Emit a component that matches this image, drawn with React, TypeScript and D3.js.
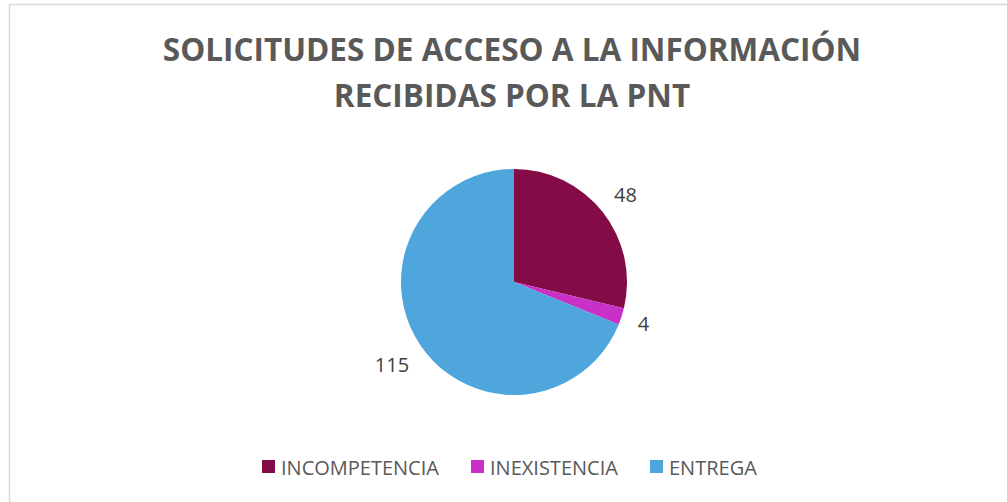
import React from "react";
import * as d3 from "d3";

const categories = ["INCOMPETENCIA", "INEXISTENCIA", "ENTREGA"];
const values = [48, 4, 115];
const colors = ["#830C47", "#C930C8", "#4EA6DC"];
const titleLines = ["SOLICITUDES DE ACCESO A LA INFORMACIÓN", "RECIBIDAS POR LA PNT"];

const W = 1007;
const H = 502;
const cx = 514;
const cy = 282;
const radius = 113;

const App = () => {
  const data = categories.map((c, i) => ({ name: c, value: values[i], color: colors[i] }));
  const pie = d3.pie<any>().sort(null).value((d) => d.value);
  const arcs = pie(data);
  const arc = d3.arc<any>().innerRadius(0).outerRadius(radius);

  // label box sits just outside the slice, like Excel's outside-end labels
  const labelPos = (a: any) => {
    const mid = (a.startAngle + a.endAngle) / 2;
    const sx = Math.sin(mid);
    const sy = -Math.cos(mid);
    const halfW = (String(a.data.value).length * 12) / 2;
    const halfH = 7.5;
    const r = radius + 15 + halfW * Math.abs(sx) + halfH * Math.abs(sy);
    return { x: sx * r, y: sy * r };
  };

  const legendX = [262, 471, 650];

  return (
    <svg
      width={W}
      height={H}
      style={{ position: "absolute", left: 0, top: 0, background: "#fff" }}
      fontFamily="'Open Sans', sans-serif"
    >
      <rect x={9.5} y={4.5} width={W + 10} height={H + 10} fill="#fff" stroke="#D9D9D9" strokeWidth={1.5} />
      {titleLines.map((t, i) => (
        <text
          key={i}
          x={512}
          y={61 + i * 46}
          textAnchor="middle"
          fontSize={31.5}
          fontWeight="bold"
          fill="#595959"
        >
          {t}
        </text>
      ))}
      <g transform={`translate(${cx},${cy})`}>
        {arcs.map((a, i) => (
          <path key={i} d={arc(a) || ""} fill={a.data.color} />
        ))}
        {arcs.map((a, i) => {
          const p = labelPos(a);
          return (
            <text
              key={"l" + i}
              x={p.x}
              y={p.y}
              textAnchor="middle"
              dominantBaseline="central"
              fontSize={20}
              fill="#404040"
            >
              {a.data.value}
            </text>
          );
        })}
      </g>
      {data.map((d, i) => (
        <g key={d.name} transform={`translate(${legendX[i]},460)`}>
          <rect x={0} y={0} width={13} height={13} fill={d.color} />
          <text x={19} y={7} dominantBaseline="central" fontSize={20} fill="#595959">
            {d.name}
          </text>
        </g>
      ))}
    </svg>
  );
};

export default App;
